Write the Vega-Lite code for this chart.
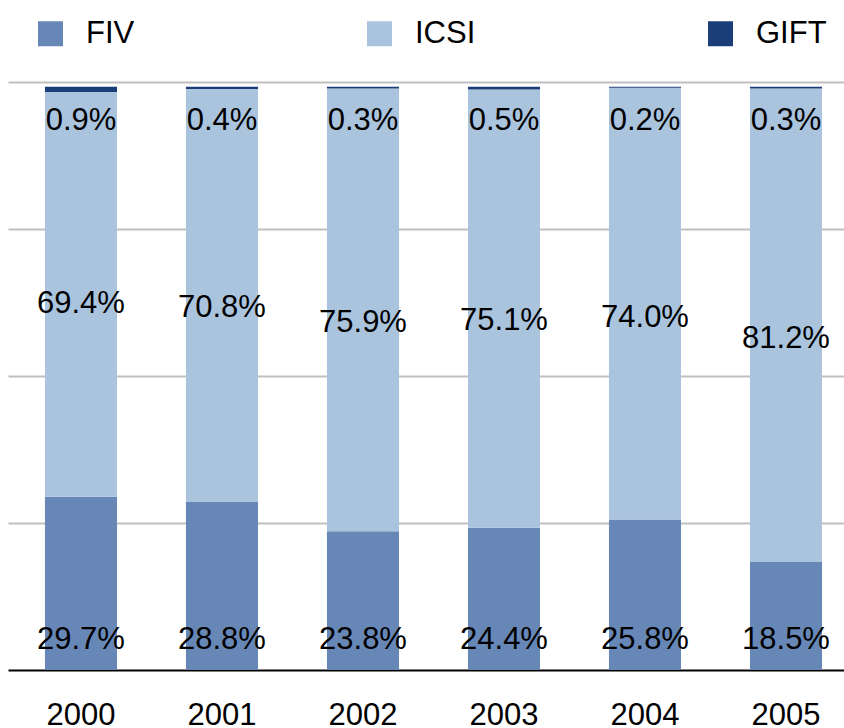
{
  "$schema": "https://vega.github.io/schema/vega-lite/v6.json",
  "width": 836,
  "height": 588,
  "autosize": {"type": "none"},
  "padding": {"left": 8, "top": 82, "right": 0, "bottom": 58},
  "background": "white",
  "config": {
    "view": {"stroke": null},
    "font": "Liberation Sans",
    "text": {"font": "Liberation Sans", "fontSize": 31, "color": "#000"}
  },
  "datasets": {
    "cats": [
      {"cat": "FIV", "rank": 1},
      {"cat": "ICSI", "rank": 2},
      {"cat": "GIFT", "rank": 3}
    ]
  },
  "data": {
    "values": [
      {"year": "2000", "cat": "FIV", "pct": 0.297},
      {"year": "2000", "cat": "ICSI", "pct": 0.694},
      {"year": "2000", "cat": "GIFT", "pct": 0.009},
      {"year": "2001", "cat": "FIV", "pct": 0.288},
      {"year": "2001", "cat": "ICSI", "pct": 0.708},
      {"year": "2001", "cat": "GIFT", "pct": 0.004},
      {"year": "2002", "cat": "FIV", "pct": 0.238},
      {"year": "2002", "cat": "ICSI", "pct": 0.759},
      {"year": "2002", "cat": "GIFT", "pct": 0.003},
      {"year": "2003", "cat": "FIV", "pct": 0.244},
      {"year": "2003", "cat": "ICSI", "pct": 0.751},
      {"year": "2003", "cat": "GIFT", "pct": 0.005},
      {"year": "2004", "cat": "FIV", "pct": 0.258},
      {"year": "2004", "cat": "ICSI", "pct": 0.740},
      {"year": "2004", "cat": "GIFT", "pct": 0.002},
      {"year": "2005", "cat": "FIV", "pct": 0.185},
      {"year": "2005", "cat": "ICSI", "pct": 0.812},
      {"year": "2005", "cat": "GIFT", "pct": 0.003}
    ]
  },
  "encoding": {
    "x": {
      "field": "year", "type": "nominal",
      "scale": {"paddingInner": 0.489, "paddingOuter": 0.209, "align": 0.627},
      "axis": {"title": null, "labelAngle": 0, "labelFontSize": 31, "labelColor": "#000", "labelFont": "Liberation Sans", "ticks": false, "domainColor": "#000", "domainWidth": 2, "labelPadding": 30, "grid": false}
    }
  },
  "layer": [
    {
      "transform": [
        {"lookup": "cat", "from": {"data": {"name": "cats"}, "key": "cat", "fields": ["rank"]}}
      ],
      "mark": {"type": "bar"},
      "encoding": {
        "y": {
          "field": "pct", "type": "quantitative", "stack": "zero",
          "scale": {"domain": [0, 1.008], "nice": false, "zero": true},
          "axis": {"title": null, "values": [0.252, 0.504, 0.756, 1.008], "grid": true, "gridColor": "#c0c0c0", "gridWidth": 2, "domain": false, "ticks": false, "labels": false}
        },
        "order": {"field": "rank", "type": "quantitative", "sort": "ascending"},
        "color": {
          "field": "cat", "type": "nominal",
          "sort": ["FIV", "ICSI", "GIFT"],
          "scale": {"domain": ["FIV", "ICSI", "GIFT"], "range": ["#6787b7", "#abc4de", "#1c3e78"]},
          "legend": {
            "title": null, "orient": "none", "direction": "horizontal", "columns": 3,
            "legendX": 27, "legendY": -64, "padding": 0,
            "symbolType": "square", "symbolSize": 625, "symbolStrokeWidth": 0, "symbolOpacity": 1,
            "labelFontSize": 31, "labelFont": "Liberation Sans", "labelColor": "#000",
            "labelOffset": 20, "columnPadding": 229, "gridAlign": "each"
          }
        }
      }
    },
    {
      "transform": [{"filter": "datum.cat === 'FIV'"}],
      "mark": {"type": "text", "baseline": "alphabetic", "dy": -21},
      "encoding": {"y": {"datum": 0, "type": "quantitative"}, "text": {"field": "pct", "type": "quantitative", "format": ".1%"}}
    },
    {
      "transform": [{"filter": "datum.cat === 'GIFT'"}],
      "mark": {"type": "text", "baseline": "alphabetic", "dy": 48},
      "encoding": {"y": {"datum": 1.008, "type": "quantitative"}, "text": {"field": "pct", "type": "quantitative", "format": ".1%"}}
    },
    {
      "transform": [
        {"stack": "pct", "groupby": ["year"], "sort": [{"field": "cat", "order": "ascending"}], "as": ["y0", "y1"]},
        {"filter": "datum.cat === 'ICSI'"},
        {"fold": ["y0", "y1"], "as": ["edge", "val"]}
      ],
      "mark": {"type": "text", "baseline": "alphabetic", "dy": 24},
      "encoding": {"y": {"field": "val", "aggregate": "mean", "type": "quantitative"}, "text": {"field": "pct", "aggregate": "max", "type": "quantitative", "format": ".1%"}}
    }
  ]
}
